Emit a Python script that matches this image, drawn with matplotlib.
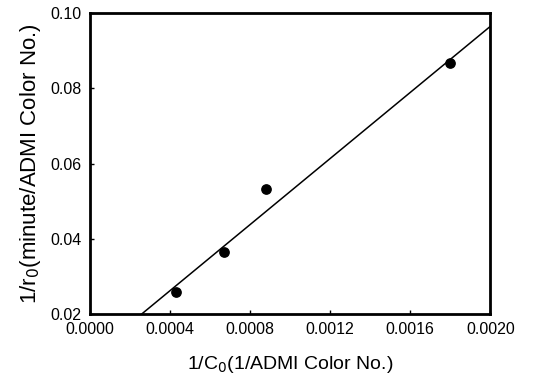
import numpy as np
import matplotlib.pyplot as plt

# data
inv_c0 = [0.000428, 0.000667, 0.000878, 0.00180]
inv_r0 = [0.0258, 0.0364, 0.0532, 0.0866]

# fitted line as drawn
fit_slope = 43.9
fit_intercept = 0.00867

plt.rcParams['font.family'] = ['Liberation Sans', 'DejaVu Sans']

fig = plt.figure(figsize=(5.47, 3.83), dpi=100)
ax = fig.add_axes([0.1645, 0.180, 0.732, 0.786])

ax.scatter(inv_c0, inv_r0, s=45, color='black', zorder=3)

xf = np.array([0.0, 0.002])
ax.plot(xf, fit_slope * xf + fit_intercept, color='black', lw=1.1)

ax.set_xlim(0, 0.002)
ax.set_ylim(0.02, 0.10)
ax.set_xticks([0.0, 0.0004, 0.0008, 0.0012, 0.0016, 0.0020])
ax.set_xticklabels(['0.0000', '0.0004', '0.0008', '0.0012', '0.0016', '0.0020'])
ax.set_yticks([0.02, 0.04, 0.06, 0.08, 0.10])
ax.set_yticklabels(['0.02', '0.04', '0.06', '0.08', '0.10'])
ax.tick_params(direction='in', length=3, width=1, labelsize=11.5, pad=6)

for s in ax.spines.values():
    s.set_linewidth(2)

ax.set_xlabel('1/C$_0$(1/ADMI Color No.)', fontsize=14, labelpad=12)
ax.set_ylabel('1/r$_0$(minute/ADMI Color No.)', fontsize=16, labelpad=5)

fig.savefig('out.png', dpi=100)
